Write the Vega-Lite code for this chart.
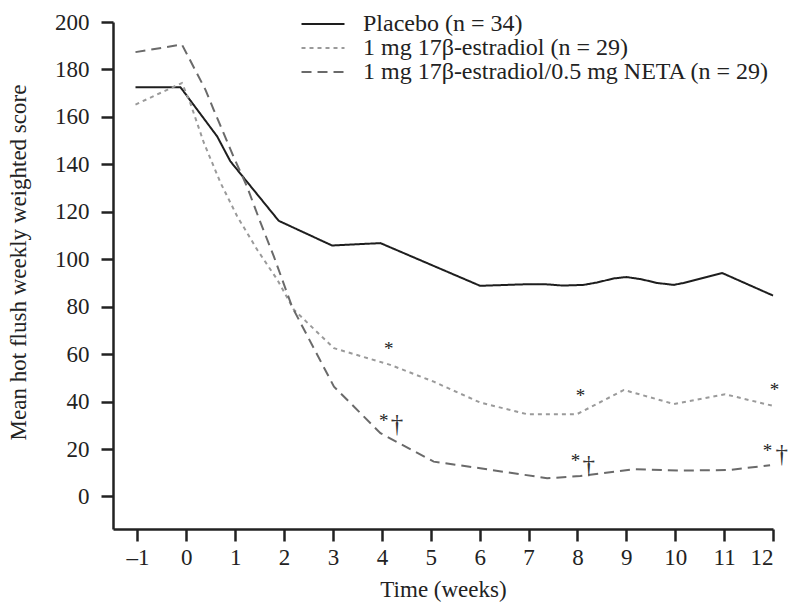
{
  "$schema": "https://vega.github.io/schema/vega-lite/v6.json",
  "width": 660,
  "height": 507,
  "autosize": {"type": "none"},
  "padding": {"left": 113, "top": 22, "right": 22, "bottom": 74},
  "background": "white",
  "config": {
    "view": {"stroke": null},
    "font": "Liberation Serif",
    "axis": {"grid": false, "domainColor": "#222", "tickColor": "#222", "domainWidth": 2.5, "tickWidth": 2.5, "tickSize": 12, "labelFont": "Liberation Serif", "titleFont": "Liberation Serif", "labelFontSize": 23, "titleFontSize": 23, "labelColor": "#222", "titleColor": "#222", "titleFontWeight": "normal"}
  },
  "datasets": {
    "lines": [
      {"series": "Placebo (n = 34)", "week": -1.04, "score": 172.5},
      {"series": "Placebo (n = 34)", "week": -0.12, "score": 172.5},
      {"series": "Placebo (n = 34)", "week": 0.63, "score": 151.8},
      {"series": "Placebo (n = 34)", "week": 0.9, "score": 141.3},
      {"series": "Placebo (n = 34)", "week": 1.89, "score": 116.2},
      {"series": "Placebo (n = 34)", "week": 2.98, "score": 105.8},
      {"series": "Placebo (n = 34)", "week": 3.97, "score": 106.8},
      {"series": "Placebo (n = 34)", "week": 6.01, "score": 88.8},
      {"series": "Placebo (n = 34)", "week": 7.0, "score": 89.5},
      {"series": "Placebo (n = 34)", "week": 7.4, "score": 89.4},
      {"series": "Placebo (n = 34)", "week": 7.7, "score": 88.9},
      {"series": "Placebo (n = 34)", "week": 8.13, "score": 89.2},
      {"series": "Placebo (n = 34)", "week": 8.4, "score": 90.2},
      {"series": "Placebo (n = 34)", "week": 8.74, "score": 91.9},
      {"series": "Placebo (n = 34)", "week": 9.0, "score": 92.5},
      {"series": "Placebo (n = 34)", "week": 9.3, "score": 91.6},
      {"series": "Placebo (n = 34)", "week": 9.63, "score": 90.0},
      {"series": "Placebo (n = 34)", "week": 9.97, "score": 89.2},
      {"series": "Placebo (n = 34)", "week": 10.17, "score": 90.0},
      {"series": "Placebo (n = 34)", "week": 10.96, "score": 94.2},
      {"series": "Placebo (n = 34)", "week": 12.0, "score": 84.7},
      {"series": "1 mg 17β-estradiol (n = 29)", "week": -1.04, "score": 165.2},
      {"series": "1 mg 17β-estradiol (n = 29)", "week": -0.09, "score": 174.3},
      {"series": "1 mg 17β-estradiol (n = 29)", "week": 0.08, "score": 165.9},
      {"series": "1 mg 17β-estradiol (n = 29)", "week": 0.36, "score": 149.0},
      {"series": "1 mg 17β-estradiol (n = 29)", "week": 0.7, "score": 132.2},
      {"series": "1 mg 17β-estradiol (n = 29)", "week": 1.04, "score": 118.1},
      {"series": "1 mg 17β-estradiol (n = 29)", "week": 1.45, "score": 104.0},
      {"series": "1 mg 17β-estradiol (n = 29)", "week": 1.86, "score": 91.4},
      {"series": "1 mg 17β-estradiol (n = 29)", "week": 2.2, "score": 78.7},
      {"series": "1 mg 17β-estradiol (n = 29)", "week": 3.02, "score": 62.5},
      {"series": "1 mg 17β-estradiol (n = 29)", "week": 4.17, "score": 55.5},
      {"series": "1 mg 17β-estradiol (n = 29)", "week": 5.06, "score": 48.4},
      {"series": "1 mg 17β-estradiol (n = 29)", "week": 6.01, "score": 39.6},
      {"series": "1 mg 17β-estradiol (n = 29)", "week": 6.97, "score": 34.7},
      {"series": "1 mg 17β-estradiol (n = 29)", "week": 7.99, "score": 34.7},
      {"series": "1 mg 17β-estradiol (n = 29)", "week": 8.95, "score": 44.9},
      {"series": "1 mg 17β-estradiol (n = 29)", "week": 9.97, "score": 39.0},
      {"series": "1 mg 17β-estradiol (n = 29)", "week": 11.02, "score": 43.1},
      {"series": "1 mg 17β-estradiol (n = 29)", "week": 12.0, "score": 38.2},
      {"series": "1 mg 17β-estradiol/0.5 mg NETA (n = 29)", "week": -1.04, "score": 187.3},
      {"series": "1 mg 17β-estradiol/0.5 mg NETA (n = 29)", "week": -0.09, "score": 190.5},
      {"series": "1 mg 17β-estradiol/0.5 mg NETA (n = 29)", "week": 0.39, "score": 171.5},
      {"series": "1 mg 17β-estradiol/0.5 mg NETA (n = 29)", "week": 0.56, "score": 163.0},
      {"series": "1 mg 17β-estradiol/0.5 mg NETA (n = 29)", "week": 0.97, "score": 143.0},
      {"series": "1 mg 17β-estradiol/0.5 mg NETA (n = 29)", "week": 1.24, "score": 130.7},
      {"series": "1 mg 17β-estradiol/0.5 mg NETA (n = 29)", "week": 1.52, "score": 115.3},
      {"series": "1 mg 17β-estradiol/0.5 mg NETA (n = 29)", "week": 1.79, "score": 101.2},
      {"series": "1 mg 17β-estradiol/0.5 mg NETA (n = 29)", "week": 2.16, "score": 80.1},
      {"series": "1 mg 17β-estradiol/0.5 mg NETA (n = 29)", "week": 3.02, "score": 46.3},
      {"series": "1 mg 17β-estradiol/0.5 mg NETA (n = 29)", "week": 3.97, "score": 26.7},
      {"series": "1 mg 17β-estradiol/0.5 mg NETA (n = 29)", "week": 5.06, "score": 14.7},
      {"series": "1 mg 17β-estradiol/0.5 mg NETA (n = 29)", "week": 6.01, "score": 11.9},
      {"series": "1 mg 17β-estradiol/0.5 mg NETA (n = 29)", "week": 7.38, "score": 7.7},
      {"series": "1 mg 17β-estradiol/0.5 mg NETA (n = 29)", "week": 8.06, "score": 8.6},
      {"series": "1 mg 17β-estradiol/0.5 mg NETA (n = 29)", "week": 9.15, "score": 11.5},
      {"series": "1 mg 17β-estradiol/0.5 mg NETA (n = 29)", "week": 10.1, "score": 10.9},
      {"series": "1 mg 17β-estradiol/0.5 mg NETA (n = 29)", "week": 11.12, "score": 11.2},
      {"series": "1 mg 17β-estradiol/0.5 mg NETA (n = 29)", "week": 11.94, "score": 13.2}
    ],
    "stars": [
      {"week": 4.14, "score": 63.5, "mark": "*"},
      {"week": 4.04, "score": 33.2, "mark": "*"},
      {"week": 8.06, "score": 43.5, "mark": "*"},
      {"week": 7.96, "score": 16.1, "mark": "*"},
      {"week": 12.03, "score": 46.3, "mark": "*"},
      {"week": 11.89, "score": 20.3, "mark": "*"}
    ],
    "daggers": [
      {"week": 4.31, "score": 30.6, "mark": "†"},
      {"week": 8.23, "score": 13.3, "mark": "†"},
      {"week": 12.18, "score": 17.9, "mark": "†"}
    ]
  },
  "layer": [
    {
      "data": {"name": "lines"},
      "mark": {"type": "line", "strokeWidth": 2},
      "encoding": {
        "x": {"field": "week", "type": "quantitative", "scale": {"domain": [-1.5, 12], "nice": false, "zero": false},
              "axis": {"values": [-1,0,1,2,3,4,5,6,7,8,9,10,11,12], "title": "Time (weeks)", "labelPadding": 5, "titlePadding": 9, "labelExpr": "replace(datum.label, '−', '–')"}},
        "y": {"field": "score", "type": "quantitative", "scale": {"domain": [-13.7, 200], "nice": false, "zero": false},
              "axis": {"values": [0,20,40,60,80,100,120,140,160,180,200], "title": "Mean hot flush weekly weighted score", "labelPadding": 12, "titlePadding": 24, "titleY": 240}},
        "color": {"field": "series", "type": "nominal",
                  "scale": {"domain": ["Placebo (n = 34)", "1 mg 17β-estradiol (n = 29)", "1 mg 17β-estradiol/0.5 mg NETA (n = 29)"], "range": ["#1e1e1e", "#9a9a9a", "#6a6a6a"]},
                  "legend": {"title": null, "orient": "none", "legendX": 198, "legendY": -10, "symbolType": "M-2,0H2", "symbolSize": 462, "symbolStrokeWidth": 2, "labelFont": "Liberation Serif", "labelFontSize": 24, "labelColor": "#222", "labelOffset": 28, "rowPadding": 0, "labelLimit": 600}},
        "strokeDash": {"field": "series", "type": "nominal",
                  "scale": {"domain": ["Placebo (n = 34)", "1 mg 17β-estradiol (n = 29)", "1 mg 17β-estradiol/0.5 mg NETA (n = 29)"], "range": [[1, 0], [4, 4], [10, 6]]},
                  "legend": {"title": null}},
        "detail": {"field": "series"},
        "order": {"field": "week", "type": "quantitative"}
      }
    },
    {
      "data": {"name": "stars"},
      "mark": {"type": "text", "fontSize": 19, "font": "Liberation Serif", "color": "#222", "baseline": "middle", "align": "center", "dy": 3},
      "encoding": {
        "x": {"field": "week", "type": "quantitative"},
        "y": {"field": "score", "type": "quantitative"},
        "text": {"field": "mark"}
      }
    },
    {
      "data": {"name": "daggers"},
      "mark": {"type": "text", "fontSize": 25, "font": "Liberation Serif", "color": "#333", "baseline": "middle", "align": "center"},
      "encoding": {
        "x": {"field": "week", "type": "quantitative"},
        "y": {"field": "score", "type": "quantitative"},
        "text": {"field": "mark"}
      }
    }
  ]
}
